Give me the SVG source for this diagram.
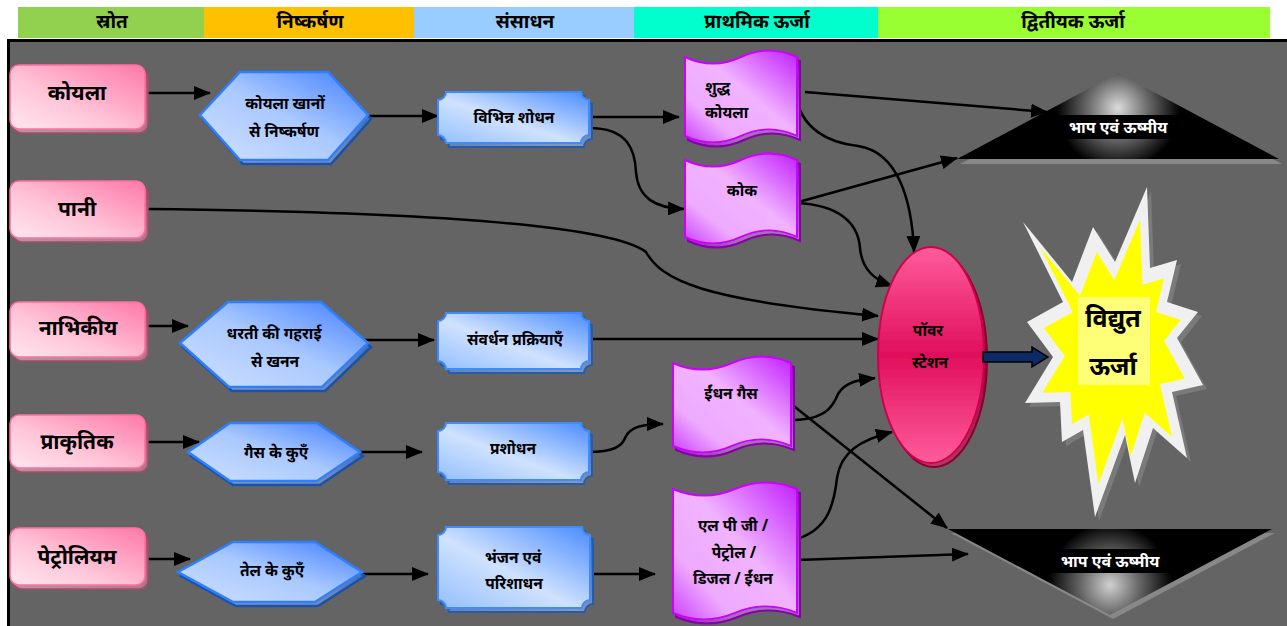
<svg xmlns="http://www.w3.org/2000/svg" width="1287" height="626" viewBox="0 0 1287 626">
<defs>
<style>
.t{font-family:'Noto Sans','DejaVu Sans',sans-serif;font-weight:bold;fill:#000;text-anchor:middle;dominant-baseline:central}
.hd{font-size:19px}
.src{font-size:21px}
.sm{font-size:15.5px}
.wt{fill:#fff;font-size:16px}
.big{font-size:25px}
.ln{fill:none;stroke:#000;stroke-width:2.5;marker-end:url(#ah)}
.pk{fill:url(#gPink);stroke:#ff6f9f;stroke-width:1.5;filter:url(#sh)}
.hx{fill:url(#gHex);stroke:#2f7fff;stroke-width:2.5;filter:url(#sh)}
.pl{fill:url(#gPl);stroke:#3d8bff;stroke-width:2;filter:url(#sh)}
.wv{fill:url(#gMag);stroke:#cc00ff;stroke-width:2;filter:url(#sh)}
</style>
<marker id="ah" markerUnits="userSpaceOnUse" markerWidth="17" markerHeight="14" refX="16" refY="7" orient="auto">
<path d="M0,0 L17,7 L0,14 Z" fill="#000"/>
</marker>
<filter id="sh" x="-10%" y="-10%" width="130%" height="130%">
<feOffset in="SourceGraphic" dx="3" dy="4" result="o"/>
<feComponentTransfer in="o" result="d"><feFuncR type="linear" slope="0.42"/><feFuncG type="linear" slope="0.42"/><feFuncB type="linear" slope="0.42"/></feComponentTransfer>
<feMerge><feMergeNode in="d"/><feMergeNode in="SourceGraphic"/></feMerge>
</filter>
<linearGradient id="gPink" x1="1" y1="0" x2="0" y2="1"><stop offset="0" stop-color="#ff78a8"/><stop offset="0.6" stop-color="#ffc6d9"/><stop offset="1" stop-color="#ffe6ef"/></linearGradient>
<linearGradient id="gHex" x1="1" y1="0" x2="0" y2="1"><stop offset="0" stop-color="#3f7dff"/><stop offset="0.5" stop-color="#aac9ff"/><stop offset="1" stop-color="#cfe0ff"/></linearGradient>
<linearGradient id="gPl" x1="1" y1="0" x2="0" y2="1"><stop offset="0" stop-color="#4a8cff"/><stop offset="0.55" stop-color="#cfe2ff"/><stop offset="1" stop-color="#94bfff"/></linearGradient>
<linearGradient id="gMag" x1="1" y1="0" x2="0" y2="1"><stop offset="0" stop-color="#c21fff"/><stop offset="0.45" stop-color="#f1b3ff"/><stop offset="0.75" stop-color="#eeaaff"/><stop offset="1" stop-color="#cc40ff"/></linearGradient>
<linearGradient id="gEl" x1="0" y1="0" x2="0" y2="1"><stop offset="0" stop-color="#ff5c9c"/><stop offset="0.5" stop-color="#e00f5c"/><stop offset="1" stop-color="#ff5c9c"/></linearGradient>
<radialGradient id="gTri1" cx="1118" cy="108" r="95" gradientUnits="userSpaceOnUse"><stop offset="0" stop-color="#dcdcdc"/><stop offset="0.3" stop-color="#707070"/><stop offset="0.65" stop-color="#000"/></radialGradient>
<radialGradient id="gTri2" cx="1110" cy="585" r="95" gradientUnits="userSpaceOnUse"><stop offset="0" stop-color="#d0d0d0"/><stop offset="0.3" stop-color="#6a6a6a"/><stop offset="0.65" stop-color="#000"/></radialGradient>
</defs>

<rect x="0" y="0" width="1287" height="626" fill="#fff"/>
<rect x="8.5" y="40.5" width="1290" height="600" fill="#646464" stroke="#000" stroke-width="3"/>

<g id="header">
<rect x="18" y="7" width="186" height="31" fill="#92d050"/>
<rect x="204" y="7" width="210" height="31" fill="#ffc000"/>
<rect x="414" y="7" width="220" height="31" fill="#99ccff"/>
<rect x="634" y="7" width="244" height="31" fill="#00ffcc"/>
<rect x="878" y="7" width="392" height="31" fill="#99ff33"/>
<text class="t hd" x="112" y="21">स्रोत</text>
<text class="t hd" x="310" y="21">निष्कर्षण</text>
<text class="t hd" x="525" y="21">संसाधन</text>
<text class="t hd" x="757" y="21">प्राथमिक ऊर्जा</text>
<text class="t hd" x="1073" y="21">द्वितीयक ऊर्जा</text>
</g>

<g id="connectors">
<path class="ln" d="M143,93 H210"/>
<path class="ln" d="M368,116 H438"/>
<path class="ln" d="M589,117 H679"/>
<path class="ln" d="M589,128 C628,128 635,150 636,172 C638,198 655,208 684,209"/>
<path class="ln" d="M147,209 C420,212 610,225 646,252 C662,280 700,300 878,316"/>
<path class="ln" d="M795,92 C800,130 830,143 858,146 C898,152 912,200 914,252"/>
<path class="ln" d="M805,92 L1047,112"/>
<path class="ln" d="M795,203 L957,158"/>
<path class="ln" d="M797,203 C838,205 858,222 860,248 C862,270 875,280 892,286"/>
<path class="ln" d="M589,339 H878"/>
<path class="ln" d="M790,420 C828,420 834,404 838,394 C845,382 858,380 875,378"/>
<path class="ln" d="M790,403 L947,528"/>
<path class="ln" d="M783,542 C828,536 834,505 837,478 C841,452 860,440 892,432"/>
<path class="ln" d="M797,560 L968,554"/>
<path class="ln" d="M123,326 H188"/>
<path class="ln" d="M362,340 H434"/>
<path class="ln" d="M133,442 H199"/>
<path class="ln" d="M357,452 H422"/>
<path class="ln" d="M588,452 C614,452 622,446 625,438 C630,426 645,424 663,424"/>
<path class="ln" d="M122,559 H190"/>
<path class="ln" d="M362,574 H428"/>
<path class="ln" d="M588,574 H655"/>
</g>

<g id="n-koyla"><rect class="pk" x="10" y="65" width="135" height="64" rx="9"/><text class="t src" x="77" y="92">कोयला</text></g>
<g id="n-pani"><rect class="pk" x="10" y="181" width="135" height="57" rx="9"/><text class="t src" x="77" y="208">पानी</text></g>
<g id="n-nabhikiya"><rect class="pk" x="10" y="302" width="135" height="55" rx="9"/><text class="t src" x="78" y="327">नाभिकीय</text></g>
<g id="n-prakritik"><rect class="pk" x="10" y="415" width="135" height="53" rx="9"/><text class="t src" x="77" y="441">प्राकृतिक</text></g>
<g id="n-petroleum"><rect class="pk" x="10" y="528" width="135" height="57" rx="9"/><text class="t src" x="77" y="556">पेट्रोलियम</text></g>

<g id="h-koyla"><polygon class="hx" points="200,115 240,72 328,72 368,115 328,160 240,160"/><text class="t sm" x="285" y="103">कोयला खानों</text><text class="t sm" x="284" y="131">से निष्कर्षण</text></g>
<g id="h-dharti"><polygon class="hx" points="180,343 228,302 321,302 368,343 322,387 229,387"/><text class="t sm" x="274" y="333">धरती की गहराई</text><text class="t sm" x="275" y="361">से खनन</text></g>
<g id="h-gas"><polygon class="hx" points="188,452 230,423 317,423 360,452 317,481 230,481"/><text class="t sm" x="276" y="452">गैस के कुएँ</text></g>
<g id="h-tel"><polygon class="hx" points="178,572 233,542 315,542 362,572 315,602 233,602"/><text class="t sm" x="272" y="570">तेल के कुएँ</text></g>

<g id="r-shodhan"><path class="pl" d="M446,92 H581 A8,8 0 0 0 589,100 V135 A8,8 0 0 0 581,143 H446 A8,8 0 0 0 438,135 V100 A8,8 0 0 0 446,92 Z"/><text class="t sm" x="514" y="117">विभिन्न शोधन</text></g>
<g id="r-samvardhan"><path class="pl" d="M446,313 H581 A8,8 0 0 0 589,321 V361 A8,8 0 0 0 581,369 H446 A8,8 0 0 0 438,361 V321 A8,8 0 0 0 446,313 Z"/><text class="t sm" x="515" y="339">संवर्धन प्रक्रियाएँ</text></g>
<g id="r-prashodhan"><path class="pl" d="M446,423 H581 A8,8 0 0 0 589,431 V472 A8,8 0 0 0 581,480 H446 A8,8 0 0 0 438,472 V431 A8,8 0 0 0 446,423 Z"/><text class="t sm" x="513" y="448">प्रशोधन</text></g>
<g id="r-bhanjan"><path class="pl" d="M446,527 H582 A8,8 0 0 0 590,535 V600 A8,8 0 0 0 582,608 H446 A8,8 0 0 0 438,600 V535 A8,8 0 0 0 446,527 Z"/><text class="t sm" x="513" y="557">भंजन एवं</text><text class="t sm" x="514" y="583">परिशाधन</text></g>

<g id="w-shuddh"><path class="wv" d="M685,57 Q713,70 741,57 T797,57 V136 Q769,123 741,136 T685,136 Z"/><text class="t sm" x="705" y="87" style="text-anchor:start">शुद्ध</text><text class="t sm" x="705" y="112" style="text-anchor:start">कोयला</text></g>
<g id="w-kok"><path class="wv" d="M685,160 Q713,173 741,160 T797,160 V237 Q769,224 741,237 T685,237 Z"/><text class="t sm" x="742" y="190">कोक</text></g>
<g id="w-indhan"><path class="wv" d="M673,363 Q702,376 732,363 T791,363 V446 Q761,433 732,446 T673,446 Z"/><text class="t sm" x="731" y="393">ईंधन गैस</text></g>
<g id="w-lpg"><path class="wv" d="M673,489 Q704,502 735,489 T797,489 V613 Q766,600 735,613 T673,613 Z"/><text class="t sm" x="733" y="525">एल पी जी /</text><text class="t sm" x="734" y="552">पेट्रोल /</text><text class="t sm" x="733" y="578">डिजल / ईंधन</text></g>

<g id="power-station"><ellipse cx="931" cy="355" rx="53" ry="108" fill="url(#gEl)" stroke="#d0004c" stroke-width="2" filter="url(#sh)"/><text class="t sm" x="928" y="330">पॉवर</text><text class="t sm" x="930" y="362">स्टेशन</text></g>

<g id="block-arrow"><polygon points="983,352 1032,352 1032,347 1048,357 1032,367 1032,362 983,362" fill="#0b2a66" stroke="#000" stroke-width="1.5"/></g>

<g id="vidyut">
<polygon transform="translate(4,4)" fill="#7a7a7a" points="1023,222 1072,282 1093,227 1115,262 1147,187 1150,268 1177,260 1167,302 1198,312 1177,338 1203,385 1172,392 1187,458 1153,428 1135,483 1125,435 1095,517 1083,430 1062,442 1060,402 1025,403 1053,357 1027,322 1063,302"/>
<polygon fill="#f0f0f0" points="1023,222 1072,282 1093,227 1115,262 1147,187 1150,268 1177,260 1167,302 1198,312 1177,338 1203,385 1172,392 1187,458 1153,428 1135,483 1125,435 1095,517 1083,430 1062,442 1060,402 1025,403 1053,357 1027,322 1063,302"/>
<polygon fill="#ffff00" transform="translate(1112,352) scale(0.8) translate(-1112,-352)" points="1023,222 1072,282 1093,227 1115,262 1147,187 1150,268 1177,260 1167,302 1198,312 1177,338 1203,385 1172,392 1187,458 1153,428 1135,483 1125,435 1095,517 1083,430 1062,442 1060,402 1025,403 1053,357 1027,322 1063,302"/>
<rect x="1078" y="297" width="72" height="88" fill="#ffff77"/>
<text class="t big" x="1113" y="317">विद्युत</text>
<text class="t big" x="1113" y="365">ऊर्जा</text>
</g>

<g id="tri-up">
<polygon points="960,164 1121,78 1282,164" fill="#888"/>
<polygon points="957,159 1118,73 1279,159" fill="url(#gTri1)"/>
<rect x="1043" y="115" width="151" height="24" fill="#000"/>
<text class="t wt" x="1118" y="127">भाप एवं ऊष्मीय</text>
</g>

<g id="tri-down">
<polygon points="951,533 1275,533 1113,619" fill="#888"/>
<polygon points="948,529 1272,529 1110,615" fill="url(#gTri2)"/>
<rect x="1034" y="549" width="152" height="24" fill="#000"/>
<text class="t wt" x="1110" y="561">भाप एवं ऊष्मीय</text>
</g>
</svg>
